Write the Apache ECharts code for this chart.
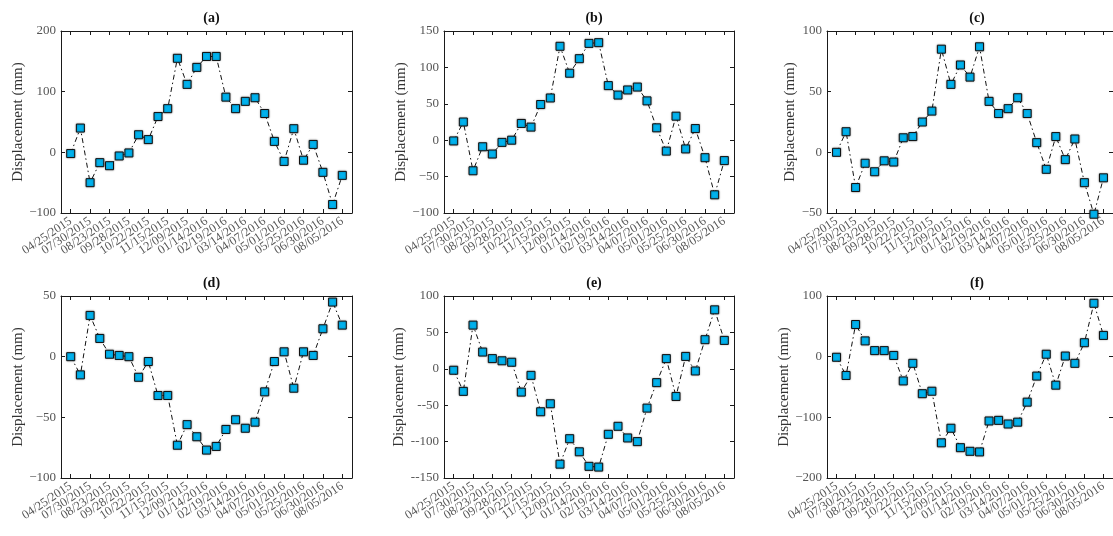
<!DOCTYPE html>
<html>
<head>
<meta charset="utf-8">
<script src="https://cdn.jsdelivr.net/npm/echarts@6/dist/echarts.min.js"></script>
<style>
  html, body { margin: 0; padding: 0; background: #fff; }
  #chart { width: 1113px; height: 536px; }
</style>
</head>
<body>
<div id="chart"></div>
<script>
// tick labels on the x axis (one every second acquisition)
const dateLabels = [
  '04/25/2015', '07/30/2015', '08/23/2015', '09/28/2015', '10/22/2015',
  '11/15/2015', '12/09/2015', '01/14/2016', '02/19/2016', '03/14/2016',
  '04/07/2016', '05/01/2016', '05/25/2016', '06/30/2016', '08/05/2016'
];

const panelNames = ['(a)', '(b)', '(c)', '(d)', '(e)', '(f)'];

// displacement (mm) per point, 29 acquisitions each
const seriesA = [-2, 40, -50, -17, -22, -6, -1, 29, 21, 59, 72, 155, 112, 140, 158, 158, 91, 72, 84, 90, 64, 18, -15, 39, -13, 13, -33, -86, -38];
const seriesB = [-1, 25, -42, -9, -19, -3, 0, 23, 18, 49, 58, 129, 92, 112, 133, 134, 75, 62, 69, 73, 54, 17, -15, 33, -12, 16, -24, -75, -28];
const seriesC = [0, 17, -29, -9, -16, -7, -8, 12, 13, 25, 34, 85, 56, 72, 62, 87, 42, 32, 36, 45, 32, 8, -14, 13, -6, 11, -25, -51, -21];
const seriesD = [0, -15, 34, 15, 2, 1, 0, -17, -4, -32, -32, -73, -56, -66, -77, -74, -60, -52, -59, -54, -29, -4, 4, -26, 4, 1, 23, 45, 26];
const seriesE = [-2, -31, 60, 23, 14, 11, 9, -32, -9, -59, -48, -131, -96, -114, -134, -135, -90, -79, -95, -100, -54, -19, 14, -38, 17, -3, 40, 81, 39];
const seriesF = [-1, -31, 53, 26, 10, 10, 2, -40, -11, -61, -57, -142, -118, -150, -156, -157, -106, -105, -111, -108, -75, -32, 4, -47, 1, -11, 23, 88, 35];

// y axis ranges: [min, max, interval]
const yRanges = [
  [-100, 200, 100],
  [-100, 150, 50],
  [-50, 100, 50],
  [-100, 50, 50],
  [-150, 100, 50],
  [-200, 100, 100]
];

const allSeries = [seriesA, seriesB, seriesC, seriesD, seriesE, seriesF];

const chart = echarts.init(document.getElementById('chart'));

const serif = 'Liberation Serif';
const axisColor = '#1a1a1a';
const colLeft = [61, 444, 827];
const rowTop = [31, 296];
const plotW = [291, 290, 290];
const plotH = 182;
const nameGaps = [33, 33, 29, 33, 34, 34];

const labelTicks = dateLabels.map((d, i) => i * 2);
// empty labels at both ends soak up echarts' min/max overlap hiding
const labelSlots = [-1].concat(labelTicks, [29]);

const grids = [];
const xAxes = [];
const yAxes = [];
const series = [];
const titles = [];

allSeries.forEach((vals, p) => {
  const col = p % 3;
  const row = Math.floor(p / 3);
  const [ymin, ymax, yint] = yRanges[p];
  grids.push({ left: colLeft[col], top: rowTop[row], width: plotW[col], height: plotH });

  titles.push({
    text: panelNames[p],
    left: colLeft[col] + plotW[col] / 2,
    top: rowTop[row] - 25,
    textAlign: 'center',
    textStyle: { fontFamily: serif, fontWeight: 'bold', fontSize: 14, color: '#111' }
  });

  const baseX = {
    gridIndex: p,
    type: 'value',
    min: -1,
    max: 29,
    splitLine: { show: false },
    axisLine: { onZero: false, lineStyle: { color: axisColor, width: 1 } },
    axisTick: { inside: true, length: 4, customValues: labelTicks, lineStyle: { color: axisColor } }
  };
  xAxes.push(Object.assign({}, baseX, {
    position: 'bottom',
    axisLabel: {
      customValues: labelSlots,
      showMinLabel: false,
      showMaxLabel: false,
      formatter: (v) => (v >= 0 && v <= 28 ? dateLabels[Math.round(v / 2)] : ''),
      rotate: 34,
      margin: 7,
      fontFamily: serif,
      fontSize: 12.5,
      color: '#555'
    }
  }));
  xAxes.push(Object.assign({}, baseX, { position: 'top', axisLabel: { show: false } }));

  const baseY = {
    gridIndex: p,
    type: 'value',
    min: ymin,
    max: ymax,
    interval: yint,
    splitLine: { show: false },
    axisLine: { show: true, onZero: false, lineStyle: { color: axisColor, width: 1 } },
    axisTick: { show: true, inside: true, length: 4, lineStyle: { color: axisColor } }
  };
  yAxes.push(Object.assign({}, baseY, {
    position: 'left',
    name: 'Displacement (mm)',
    nameLocation: 'middle',
    nameGap: nameGaps[p],
    nameTextStyle: { fontFamily: serif, fontSize: 15, color: '#333' },
    axisLabel: {
      margin: 5,
      showMinLabel: true,
      showMaxLabel: true,
      fontFamily: serif,
      fontSize: 13,
      color: '#555',
      formatter: (v) => (v < 0 ? (p === 4 ? '--' : '\u2212') + Math.abs(v) : String(v))
    }
  }));
  yAxes.push(Object.assign({}, baseY, { position: 'right', axisLabel: { show: false } }));

  series.push({
    type: 'line',
    xAxisIndex: p * 2,
    yAxisIndex: p * 2,
    data: vals.map((v, i) => [i, v]),
    clip: false,
    symbol: 'rect',
    symbolSize: 8,
    lineStyle: { color: '#111', width: 1, type: [5, 3, 1.5, 3] },
    itemStyle: {
      color: '#00b2ee',
      borderColor: '#111',
      borderWidth: 1,
      shadowColor: 'rgba(0,0,0,0.35)',
      shadowBlur: 2
    },
    emphasis: { disabled: true },
    animation: false
  });
});

chart.setOption({
  animation: false,
  title: titles,
  grid: grids,
  xAxis: xAxes,
  yAxis: yAxes,
  series: series
});
</script>
</body>
</html>
